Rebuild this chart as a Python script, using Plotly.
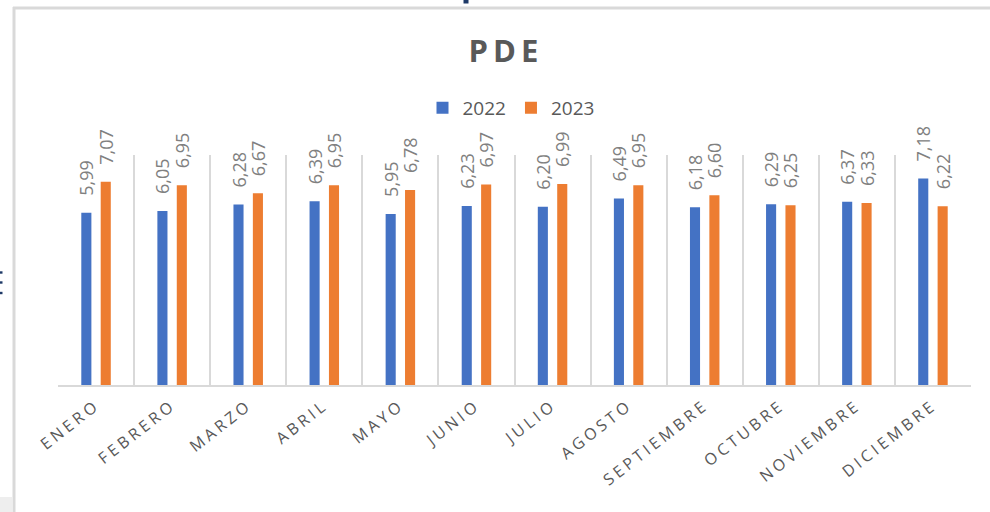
import plotly.graph_objects as go

months = ["ENERO", "FEBRERO", "MARZO", "ABRIL", "MAYO", "JUNIO", "JULIO",
          "AGOSTO", "SEPTIEMBRE", "OCTUBRE", "NOVIEMBRE", "DICIEMBRE"]
values_2022 = [5.99, 6.05, 6.28, 6.39, 5.95, 6.23, 6.20, 6.49, 6.18, 6.29, 6.37, 7.18]
values_2023 = [7.07, 6.95, 6.67, 6.95, 6.78, 6.97, 6.99, 6.95, 6.60, 6.25, 6.33, 6.22]
series_names = ["2022", "2023"]
series_colors = ["#4472C4", "#ED7D31"]

W, H = 990, 512
L, R, T, B = 58, 19, 155, 127
pw, ph = W - L - R, H - T - B

def px(x):
    return (x - L) / pw

def py(y):
    return (H - B - y) / ph

def fmt(v):
    return "\u00a0\u00a0\u00a0" + f"{v:.2f}".replace(".", ",")

fig = go.Figure()
for name, vals, col in zip(series_names, [values_2022, values_2023], series_colors):
    fig.add_trace(go.Bar(
        x=months, y=vals, name=name,
        marker=dict(color=col, line=dict(width=0)),
        text=[fmt(v) for v in vals],
        textposition="outside", textangle=-90, constraintext="none",
        cliponaxis=False,
        textfont=dict(family="Open Sans", size=18, color="#808080"),
    ))

shapes = []
frame = "#d9d9d9"
shapes.append(dict(type="line", xref="paper", yref="paper", x0=px(13), x1=px(992),
                   y0=py(8), y1=py(8), line=dict(color=frame, width=3)))
shapes.append(dict(type="line", xref="paper", yref="paper", x0=px(14), x1=px(14),
                   y0=py(7), y1=py(514), line=dict(color=frame, width=3)))
shapes.append(dict(type="rect", xref="paper", yref="paper", x0=px(-2), x1=px(12.5),
                   y0=py(497), y1=py(514), fillcolor="#eeeeee", line=dict(width=0)))
shapes.append(dict(type="rect", xref="paper", yref="paper", x0=px(463.5), x1=px(468.5),
                   y0=py(-1), y1=py(3.5), fillcolor="#1f3a68", line=dict(width=0)))
for yy in (272.5, 282.5, 293):
    shapes.append(dict(type="rect", xref="paper", yref="paper", x0=px(-1), x1=px(2.5),
                       y0=py(yy - 1.2), y1=py(yy + 1.2), fillcolor="#1f3a68", line=dict(width=0)))

fig.update_layout(
    width=W, height=H,
    margin=dict(l=L, r=R, t=T, b=B),
    paper_bgcolor="white", plot_bgcolor="white",
    barmode="group", bargap=0.49, bargroupgap=0.48,
    title=dict(text="<b>PDE</b>", x=506 / W, xref="container", xanchor="center",
               y=1 - 51 / H, yref="container", yanchor="middle",
               font=dict(family="Open Sans", size=31, color="#595959")),
    legend=dict(orientation="h", x=px(511), xanchor="center", y=py(108), yanchor="middle",
                font=dict(family="Open Sans", size=19, color="#595959"),
                bgcolor="rgba(0,0,0,0)", itemwidth=30),
    xaxis=dict(tickson="boundaries", showgrid=True, gridcolor="#d9d9d9", gridwidth=2,
               showline=True, linecolor="#d9d9d9", linewidth=2, ticks="",
               tickangle=-38, ticklabelstandoff=3,
               tickfont=dict(family="Open Sans", size=16, color="#595959"),
               mirror=False),
    yaxis=dict(range=[0, 8], showgrid=False, showticklabels=False, zeroline=False,
               showline=False, ticks=""),
    shapes=shapes,
    showlegend=True,
)

post = """
(function(){
  document.documentElement.style.margin='0';
  document.body.style.margin='0';
  document.body.style.padding='0';
  document.body.style.overflow='hidden';
  var gd = document.getElementById('{plot_id}');
  function sp(){
    document.querySelectorAll('.xtick text').forEach(function(t){ t.style.letterSpacing='3.5px'; });
    document.querySelectorAll('.gtitle').forEach(function(t){ t.style.letterSpacing='5px'; });
  }
  sp();
  if (gd && gd.on) { gd.on('plotly_afterplot', sp); }
  setTimeout(sp, 0);
})();
"""
fig.write_html("out.html", post_script=post,
               config={"displayModeBar": False, "staticPlot": False})
